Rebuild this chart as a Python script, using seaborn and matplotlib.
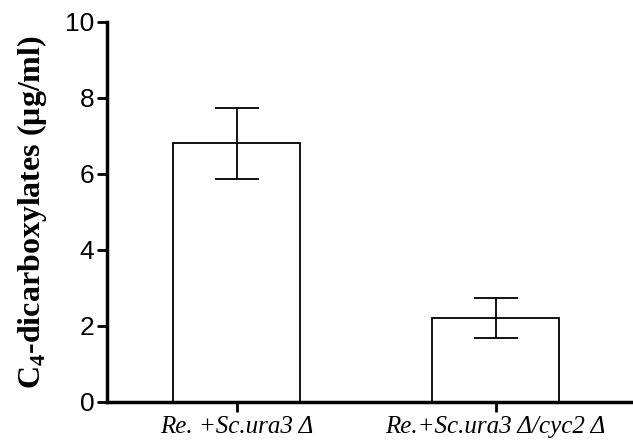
import matplotlib
matplotlib.use('Agg')
import matplotlib.pyplot as plt
import numpy as np
import seaborn as sns

# values
strains = ['Re. +Sc.ura3 Δ', 'Re.+Sc.ura3 Δ/cyc2 Δ']
means = [6.8, 2.21]
sd = [0.93, 0.53]

sns.set_style('ticks')
plt.rcParams['font.family'] = ['Liberation Sans', 'DejaVu Sans']
plt.rcParams['mathtext.fontset'] = 'custom'
plt.rcParams['mathtext.rm'] = 'Liberation Serif:bold'
plt.rcParams['mathtext.bf'] = 'Liberation Serif:bold'

fig = plt.figure(figsize=(6.33, 4.45), dpi=100)
ax = fig.add_axes([0.169, 0.097, 0.831, 0.854])

sns.barplot(x=strains, y=means, color='white', edgecolor='black', linewidth=1.3,
            width=0.49, errorbar=None, ax=ax)
ax.errorbar(np.arange(len(means)), means, yerr=sd, fmt='none', ecolor='black',
            elinewidth=1.3, capsize=16, capthick=1.3)

ax.set_ylim(0, 10)
ax.set_xlim(-0.5, 1.53)
ax.set_yticks([0, 2, 4, 6, 8, 10])
ax.tick_params(axis='y', labelsize=19, width=2, length=7, direction='out',
               colors='black', pad=2)
ax.tick_params(axis='x', width=2, length=7, direction='out', colors='black')
for lab in ax.get_xticklabels():
    lab.set_fontfamily('Liberation Serif')
    lab.set_fontstyle('italic')
    lab.set_fontsize(18)

ax.set_ylabel('C$_4$-dicarboxylates (μg/ml)', fontfamily='Liberation Serif',
              fontweight='bold', fontsize=23, labelpad=12, color='black')

sns.despine(ax=ax)
for side in ['left', 'bottom']:
    ax.spines[side].set_linewidth(2.5)
    ax.spines[side].set_color('black')

fig.savefig('out.png', dpi=100)
